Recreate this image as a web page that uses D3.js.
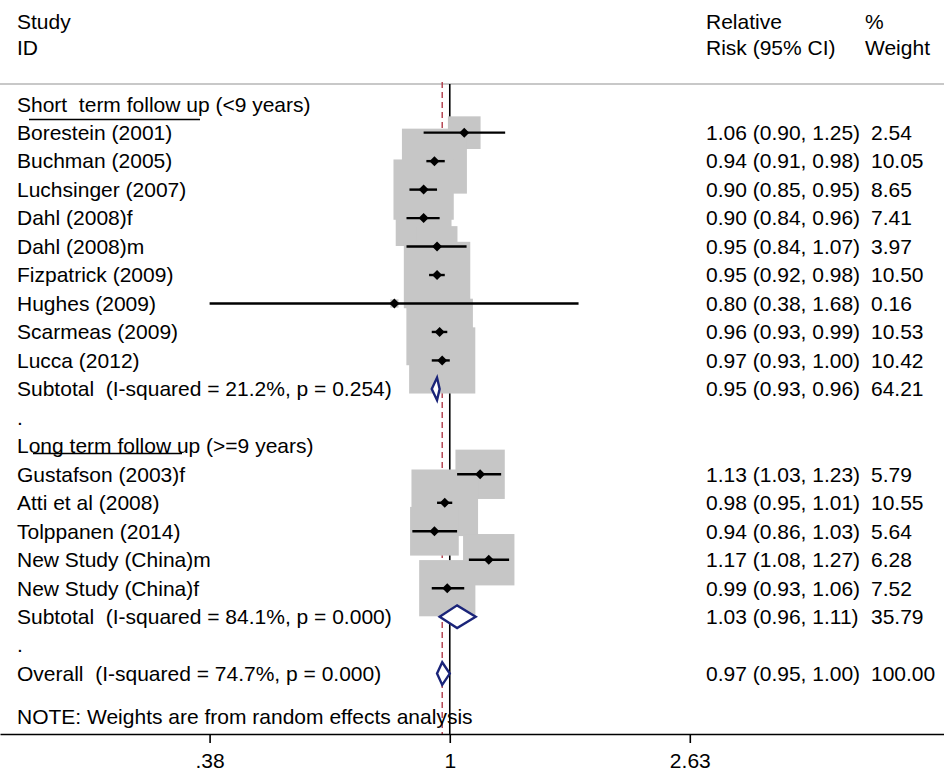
<!DOCTYPE html>
<html>
<head>
<meta charset="utf-8">
<script src="https://cdn.jsdelivr.net/npm/d3@7"></script>
<style>
  body { margin: 0; background: #fff; }
  svg { display: block; }
  text { font-family: "Liberation Sans", Arial, sans-serif; font-size: 21px; fill: #000; white-space: pre; }
</style>
</head>
<body>
<div id="chart"></div>
<script>
// ---- data ----
var groupTitles = ["Short  term follow up (<9 years)", "Long term follow up (>=9 years)"];

var studyNames = ["Borestein (2001)", "Buchman (2005)", "Luchsinger (2007)", "Dahl (2008)f",
  "Dahl (2008)m", "Fizpatrick (2009)", "Hughes (2009)", "Scarmeas (2009)", "Lucca (2012)",
  "Gustafson (2003)f", "Atti et al (2008)", "Tolppanen (2014)", "New Study (China)m", "New Study (China)f"];
var studyGroup = [0, 0, 0, 0, 0, 0, 0, 0, 0, 1, 1, 1, 1, 1];
var studyRR = [1.06, 0.94, 0.90, 0.90, 0.95, 0.95, 0.80, 0.96, 0.97, 1.13, 0.98, 0.94, 1.17, 0.99];
var studyLo = [0.90, 0.91, 0.85, 0.84, 0.84, 0.92, 0.38, 0.93, 0.93, 1.03, 0.95, 0.86, 1.08, 0.93];
var studyHi = [1.25, 0.98, 0.95, 0.96, 1.07, 0.98, 1.68, 0.99, 1.00, 1.23, 1.01, 1.03, 1.27, 1.06];
var studyWeight = [2.54, 10.05, 8.65, 7.41, 3.97, 10.50, 0.16, 10.53, 10.42, 5.79, 10.55, 5.64, 6.28, 7.52];

var pooledLabels = ["Subtotal  (I-squared = 21.2%, p = 0.254)", "Subtotal  (I-squared = 84.1%, p = 0.000)",
  "Overall  (I-squared = 74.7%, p = 0.000)"];
var pooledRR = [0.95, 1.03, 0.97];
var pooledLo = [0.93, 0.96, 0.95];
var pooledHi = [0.96, 1.11, 1.00];
var pooledWeight = [64.21, 35.79, 100.00];

var xTicks = [0.38, 1, 2.63];
var xTickLabels = [".38", "1", "2.63"];
var noteText = "NOTE: Weights are from random effects analysis";

// ---- build the row list (top to bottom) ----
var rows = [];
[0, 1].forEach(function(g) {
  rows.push({type: "title", label: groupTitles[g]});
  studyNames.forEach(function(n, i) {
    if (studyGroup[i] === g)
      rows.push({type: "study", label: n, rr: studyRR[i], lo: studyLo[i], hi: studyHi[i], w: studyWeight[i]});
  });
  rows.push({type: "pooled", label: pooledLabels[g], rr: pooledRR[g], lo: pooledLo[g], hi: pooledHi[g], w: pooledWeight[g]});
  rows.push({type: "blank", label: "."});
});
rows.push({type: "pooled", label: pooledLabels[2], rr: pooledRR[2], lo: pooledLo[2], hi: pooledHi[2], w: pooledWeight[2]});
rows.forEach(function(r, i) { r.i = i; });

var width = 944, height = 772;
var topLine = 84, axisY = 734;

var svg = d3.select("#chart").append("svg")
    .attr("width", width)
    .attr("height", height);

// log scale, then stretched so the axis line runs the whole width
var x = d3.scaleLog().domain([0.38, 2.63]).range([209.6, 689.8]);
x.domain([x.invert(0), x.invert(width)]).range([0, width]);

var rowStep = 28.47;
var y = d3.scaleLinear().domain([0, rows.length - 1]).range([104.2, 104.2 + (rows.length - 1) * rowStep]);

var boxSide = function(w) { return 20.5 * Math.sqrt(w); };

// header
var colLabel = 17, colCI = 706, colW = 871, colWHead = 865;
svg.append("text").attr("x", colLabel).attr("y", 21.7).attr("dy", "0.35em").text("Study");
svg.append("text").attr("x", colLabel).attr("y", 48).attr("dy", "0.35em").text("ID");
svg.append("text").attr("x", colCI).attr("y", 21.7).attr("dy", "0.35em").text("Relative");
svg.append("text").attr("x", colCI).attr("y", 48).attr("dy", "0.35em").text("Risk (95% CI)");
svg.append("text").attr("x", colWHead).attr("y", 21.7).attr("dy", "0.35em").text("%");
svg.append("text").attr("x", colWHead).attr("y", 48).attr("dy", "0.35em").text("Weight");

svg.append("line")
    .attr("x1", 0).attr("x2", width)
    .attr("y1", topLine).attr("y2", topLine)
    .attr("stroke", "#c8c8c8").attr("stroke-width", 2);

// reference lines: no effect and overall estimate
svg.append("line")
    .attr("x1", x(1)).attr("x2", x(1))
    .attr("y1", topLine).attr("y2", axisY)
    .attr("stroke", "#000").attr("stroke-width", 1.6);
svg.append("line")
    .attr("x1", x(pooledRR[2])).attr("x2", x(pooledRR[2]))
    .attr("y1", topLine - 2).attr("y2", axisY)
    .attr("stroke", "#b03a48").attr("stroke-width", 1.4)
    .attr("stroke-dasharray", "6,4");

var studies = rows.filter(function(r) { return r.type === "study"; });
var pooled = rows.filter(function(r) { return r.type === "pooled"; });

// weight boxes
svg.append("g").selectAll("rect").data(studies).enter().append("rect")
    .attr("x", function(d) { return x(d.rr) - boxSide(d.w) / 2; })
    .attr("y", function(d) { return y(d.i) - boxSide(d.w) / 2; })
    .attr("width", function(d) { return boxSide(d.w); })
    .attr("height", function(d) { return boxSide(d.w); })
    .attr("fill", "#c6c6c6");

// pooled diamonds
svg.append("g").selectAll("polygon").data(pooled).enter().append("polygon")
    .attr("points", function(d) {
      var cy = y(d.i), h = 11.3;
      return [[x(d.lo), cy], [x(d.rr), cy - h], [x(d.hi), cy], [x(d.rr), cy + h]].join(" ");
    })
    .attr("fill", "#fff")
    .attr("stroke", "#1a2479").attr("stroke-width", 2.4);

// confidence intervals
svg.append("g").selectAll("line").data(studies).enter().append("line")
    .attr("x1", function(d) { return x(d.lo); })
    .attr("x2", function(d) { return x(d.hi); })
    .attr("y1", function(d) { return y(d.i); })
    .attr("y2", function(d) { return y(d.i); })
    .attr("stroke", "#000").attr("stroke-width", 2.4);

// point estimates
svg.append("g").selectAll("polygon").data(studies).enter().append("polygon")
    .attr("points", function(d) {
      var cx = x(d.rr), cy = y(d.i), r = 5;
      return [[cx - r, cy], [cx, cy - r], [cx + r, cy], [cx, cy + r]].join(" ");
    })
    .attr("fill", "#000");

// row labels
svg.append("g").selectAll("text").data(rows).enter().append("text")
    .attr("x", colLabel)
    .attr("y", function(d) { return y(d.i); })
    .attr("dy", "0.35em")
    .text(function(d) { return d.label; });

// note sits just above the axis line
svg.append("text").attr("x", colLabel).attr("y", 717).attr("dy", "0.35em").text(noteText);

// odd underlines under the group titles
svg.append("line").attr("x1", 29).attr("x2", 200).attr("y1", 119.5).attr("y2", 119.5)
    .attr("stroke", "#000").attr("stroke-width", 1.4);
svg.append("line").attr("x1", 33).attr("x2", 182).attr("y1", 453.5).attr("y2", 453.5)
    .attr("stroke", "#000").attr("stroke-width", 1.4);

// estimate and weight columns
var est = rows.filter(function(r) { return r.type === "study" || r.type === "pooled"; });
svg.append("g").selectAll("text").data(est).enter().append("text")
    .attr("x", colCI)
    .attr("y", function(d) { return y(d.i); })
    .attr("dy", "0.35em")
    .text(function(d) { return d.rr.toFixed(2) + " (" + d.lo.toFixed(2) + ", " + d.hi.toFixed(2) + ")"; });
svg.append("g").selectAll("text").data(est).enter().append("text")
    .attr("x", colW)
    .attr("y", function(d) { return y(d.i); })
    .attr("dy", "0.35em")
    .text(function(d) { return d.w.toFixed(2); });

// x axis
var axis = svg.append("g")
    .attr("transform", "translate(0," + axisY + ")")
    .call(d3.axisBottom(x)
      .tickValues(xTicks)
      .tickFormat(function(d, i) { return xTickLabels[i]; })
      .tickSize(9)
      .tickSizeOuter(0)
      .tickPadding(10));
axis.select(".domain").attr("stroke", "#000").attr("stroke-width", 1.6);
axis.selectAll(".tick line").attr("stroke", "#000").attr("stroke-width", 1.6);
axis.selectAll(".tick text")
    .style("font-family", "\"Liberation Sans\", Arial, sans-serif")
    .style("font-size", "21px")
    .attr("fill", "#000");
</script>
</body>
</html>
